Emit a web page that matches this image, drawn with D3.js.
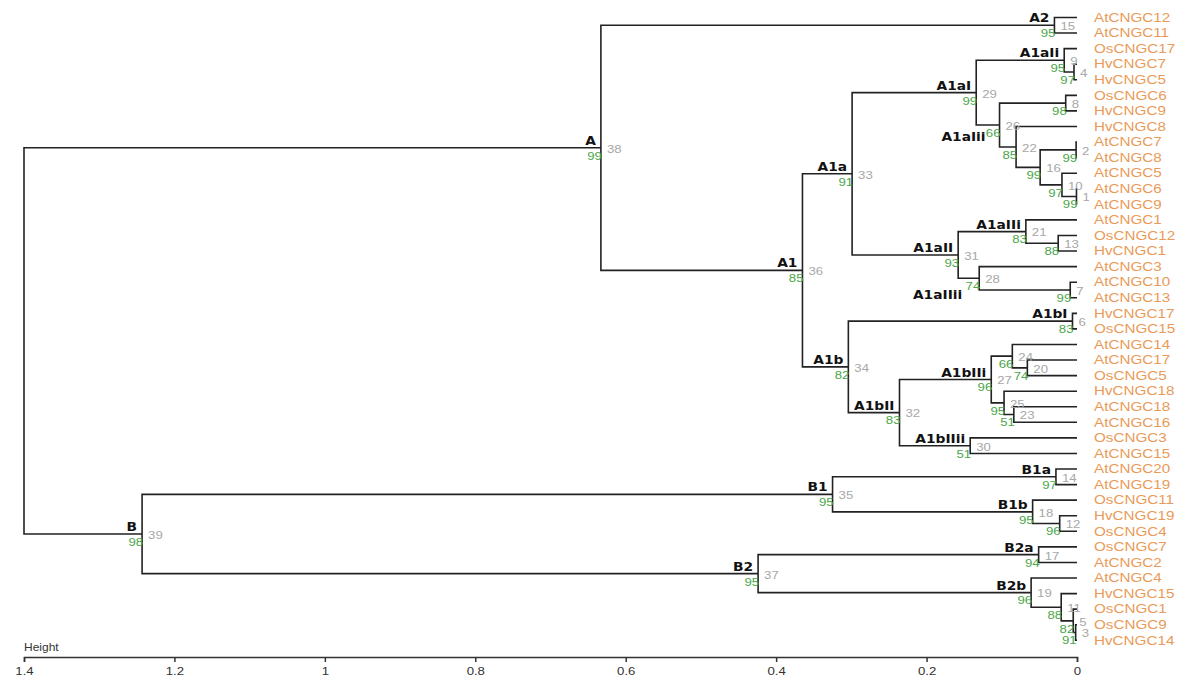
<!DOCTYPE html>
<html lang="en">
<head>
<meta charset="UTF-8">
<title>CNGC dendrogram</title>
<script src="https://cdn.jsdelivr.net/npm/d3@7"></script>
<style>
  body { margin: 0; background: #fff; }
  .link { fill: none; stroke: #222; stroke-width: 1.6px; }
  .leaf-label { font: 12px "Liberation Sans", Arial, sans-serif; fill: #ea9a58; }
  .boot { font: 11px "Liberation Sans", Arial, sans-serif; fill: #4aa64a; }
  .edge-id { font: 11px "Liberation Sans", Arial, sans-serif; fill: #a8a8a8; }
  .clade { font: bold 11.5px "DejaVu Sans", sans-serif; fill: #111; }
  .axis text { font: 11px "Liberation Sans", Arial, sans-serif; fill: #333; }
  .axis path, .axis line { stroke: #333; stroke-width: 1.5px; }
  .axis-title { font: 10px "Liberation Sans", Arial, sans-serif; fill: #333; }
</style>
</head>
<body>
<svg id="chart" width="1185" height="681"></svg>
<script>
// leaves, top to bottom
var leaves = ['AtCNGC12', 'AtCNGC11', 'OsCNGC17', 'HvCNGC7', 'HvCNGC5', 'OsCNGC6', 'HvCNGC9',
    'HvCNGC8', 'AtCNGC7', 'AtCNGC8', 'AtCNGC5', 'AtCNGC6', 'AtCNGC9', 'AtCNGC1', 'OsCNGC12',
    'HvCNGC1', 'AtCNGC3', 'AtCNGC10', 'AtCNGC13', 'HvCNGC17', 'OsCNGC15', 'AtCNGC14', 'AtCNGC17',
    'OsCNGC5', 'HvCNGC18', 'AtCNGC18', 'AtCNGC16', 'OsCNGC3', 'AtCNGC15', 'AtCNGC20', 'AtCNGC19',
    'OsCNGC11', 'HvCNGC19', 'OsCNGC4', 'OsCNGC7', 'AtCNGC2', 'AtCNGC4', 'HvCNGC15', 'OsCNGC1',
    'OsCNGC9', 'HvCNGC14'];

// hclust style merge table: negative = leaf (1-based), positive = earlier merge row
var merges = [
    [-12, -13], [-9, -10], [-40, -41], [-4, -5], [-39, 3], [-20, -21], [-18, -19], [-6, -7],
    [-3, 4], [-11, 1], [-38, 5], [-33, -34], [-15, -16], [-30, -31], [-1, -2], [2, 10],
    [-35, -36], [-32, 12], [-37, 11], [-23, -24], [-14, 13], [-8, 16], [-26, -27], [-22, 20],
    [-25, 23], [8, 22], [24, 25], [-17, 7], [9, 26], [-28, -29], [21, 28], [27, 30],
    [29, 31], [6, 32], [14, 18], [33, 34], [17, 19], [15, 36], [35, 37], [38, 39]
];

var heights = [0.0007, 0.0012, 0.0018, 0.004, 0.005, 0.006, 0.009, 0.015, 0.017, 0.020,
    0.021, 0.023, 0.025, 0.028, 0.030, 0.049, 0.051, 0.059, 0.061, 0.066,
    0.068, 0.081, 0.084, 0.086, 0.097, 0.103, 0.114, 0.130, 0.134, 0.142,
    0.158, 0.236, 0.299, 0.304, 0.325, 0.365, 0.424, 0.633, 1.243, 1.400];

var bootstrap = [99, 99, 91, 97, 82, 83, 99, 98, 95, 97,
    88, 96, 88, 97, 95, 99, 94, 95, 96, 74,
    83, 85, 51, 66, 95, 66, 96, 74, 99, 51,
    93, 83, 91, 82, 95, 85, 95, 99, 98];

var cladeNodes = [15, 38, 36, 33, 34, 29, 9, 26, 31, 21, 28, 6, 32, 27, 30, 39, 35, 37, 14, 18, 17, 19];
var cladeNames = ['A2', 'A', 'A1', 'A1a', 'A1b', 'A1aI', 'A1aIi', 'A1aIii', 'A1aII', 'A1aIIi', 'A1aIIii',
    'A1bI', 'A1bII', 'A1bIIi', 'A1bIIii', 'B', 'B1', 'B2', 'B1a', 'B1b', 'B2a', 'B2b'];

var axisTicks = [1.4, 1.2, 1, 0.8, 0.6, 0.4, 0.2, 0];

// labels that sit under their branch instead of above it
var cladeOffset = {26: [-14, 16], 28: [-17, 21]};
var stretch = 1.2;
var leafStretch = 1.27;

var svg = d3.select('#chart');

var x = d3.scaleLinear().domain([1.4, 0]).range([24, 1077]);
var yLeaf = d3.scalePoint().domain(leaves).range([17.5, 640.3]);

// build the tree from the merge table
var nodes = [];
merges.forEach(function (m, i) {
    nodes[i + 1] = {
        id: i + 1,
        h: heights[i],
        children: m.map(function (v) {
            return v < 0 ? {name: leaves[-v - 1], h: 0} : nodes[v];
        })
    };
});
var root = d3.hierarchy(nodes[merges.length]);
root.eachAfter(function (d) {
    d.y = d.children ? d3.mean(d.children, c => c.y) : yLeaf(d.data.name);
    d.x = x(d.data.h);
});

var internal = root.descendants().filter(d => d.children);

svg.append('g').selectAll('path')
    .data(internal)
    .enter().append('path')
    .attr('class', 'link')
    .attr('d', function (d) {
        var a = d.children[0], b = d.children[1];
        return 'M' + a.x + ',' + a.y + 'H' + d.x + 'V' + b.y + 'H' + b.x;
    });

function stretched(sel, px, py, k) {
    return sel.attr('transform', function (d) {
        return 'translate(' + px(d) + ',' + py(d) + ') scale(' + (k || stretch) + ',1)';
    });
}

stretched(svg.append('g').selectAll('text')
    .data(root.leaves())
    .enter().append('text')
    .attr('class', 'leaf-label')
    .attr('dy', '0.35em')
    .text(d => d.data.name), d => 1094, d => d.y, leafStretch);

var numbered = internal.filter(d => d.data.id < 40);

stretched(svg.append('g').selectAll('text')
    .data(numbered)
    .enter().append('text')
    .attr('class', 'boot')
    .attr('text-anchor', 'end')
    .attr('dy', '0.35em')
    .text(d => bootstrap[d.data.id - 1]), d => d.x + 1, d => d.y + 8);

stretched(svg.append('g').selectAll('text')
    .data(numbered)
    .enter().append('text')
    .attr('class', 'edge-id')
    .attr('dy', '0.35em')
    .text(d => d.data.id), d => d.x + 6, d => d.y + 1);

var clades = internal.filter(d => cladeNodes.indexOf(d.data.id) >= 0);
stretched(svg.append('g').selectAll('text')
    .data(clades)
    .enter().append('text')
    .attr('class', 'clade')
    .attr('text-anchor', 'end')
    .text(d => cladeNames[cladeNodes.indexOf(d.data.id)]),
    d => d.x + (cladeOffset[d.data.id] ? cladeOffset[d.data.id][0] : -5),
    d => d.y + (cladeOffset[d.data.id] ? cladeOffset[d.data.id][1] : -3));

// height axis
var axis = svg.append('g')
    .attr('class', 'axis')
    .attr('transform', 'translate(0,657)')
    .call(d3.axisBottom(x).tickValues(axisTicks).tickFormat(d3.format('~g')).tickSize(5).tickPadding(5));
axis.selectAll('text').attr('transform', 'scale(' + stretch + ',1)');

svg.append('text')
    .attr('class', 'axis-title')
    .attr('transform', 'translate(24,651) scale(' + stretch + ',1)')
    .text('Height');
</script>
</body>
</html>
